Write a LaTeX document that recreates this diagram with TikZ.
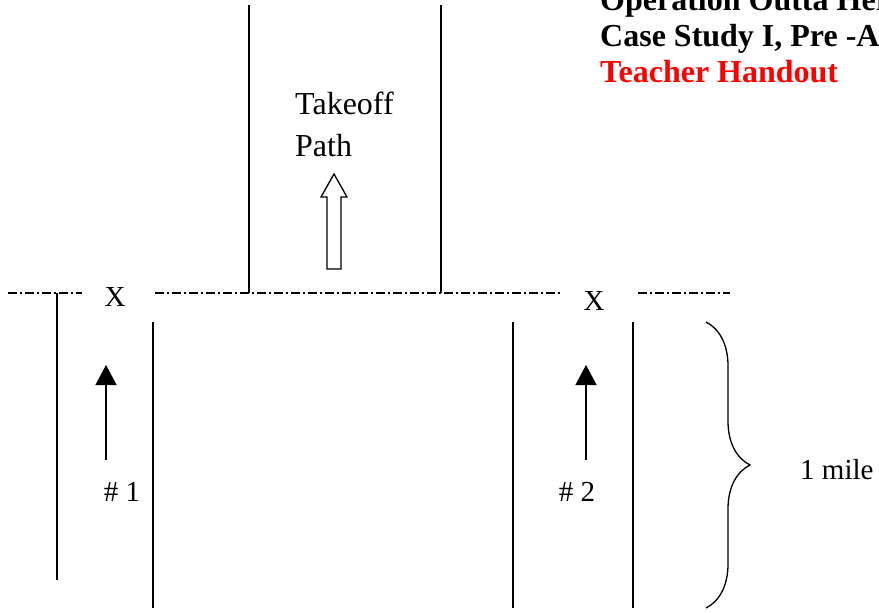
\documentclass[tikz,border=0pt]{standalone}
\usepackage{fontspec}
\setmainfont{Liberation Serif}
\usetikzlibrary{positioning, arrows.meta, decorations.pathreplacing}

\tikzset{
  edge/.style={line width=1.3pt},
  centre/.style={line width=1.1pt, dash pattern=on 9pt off 3pt on 2pt off 3pt},
  lbl/.style={font=\fontsize{29}{36}\selectfont, inner sep=0pt},
  head/.style={lbl, anchor=base west, font=\fontsize{32}{36}\selectfont\bfseries},
}

\begin{document}
\begin{tikzpicture}[x=1pt, y=-1pt]
\useasboundingbox (0,0) rectangle (879,613);
\clip (0,0) rectangle (879,613);

% heading
\node[head] (hd1) at (600,10) {Operation Outta Here};
\node[head] (hd2) at (600,46) {Case Study I, Pre -Algebra};
\node[head, text={rgb,255:red,255;green,0;blue,0}] (hd3) at (600,82) {Teacher Handout};

% takeoff strip
\draw[edge] (249,5) -- (249,293);
\draw[edge] (441,5) -- (441,293);
\node[lbl, anchor=base west, font=\fontsize{32}{36}\selectfont] (tk1) at (295,114) {Takeoff};
\node[lbl, anchor=base west, font=\fontsize{32}{36}\selectfont] (tk2) at (295,156) {Path};
\draw[edge, fill=white] (327,269) -- (327,197) -- (321,197) -- (334,174)
  -- (347,197) -- (341,197) -- (341,269) -- cycle;

% centre line
\draw[centre] (8,293) -- (82,293);
\draw[centre] (155,293) -- (560,293);
\draw[centre] (638,293) -- (730,293);
\node[lbl] (x1) at (115,297) {X};
\node[lbl] (x2) at (594,301) {X};

% runway 1
\draw[edge] (57,293) -- (57,580);
\draw[edge] (153,322) -- (153,608);
\coordinate (a1) at (106,460);
\coordinate (b1) at (106,365);
\draw[edge, -{Triangle[length=20pt, width=21pt]}] (a1) -- (b1);
\node[lbl] (n1) at (122,492) {\# 1};

% runway 2
\draw[edge] (513,322) -- (513,608);
\draw[edge] (633,322) -- (633,608);
\coordinate (a2) at (586,460);
\coordinate (b2) at (586,365);
\draw[edge, -{Triangle[length=20pt, width=21pt]}] (a2) -- (b2);
\node[lbl] (n2) at (577,492) {\# 2};

% length
\coordinate (br1) at (706,322);
\coordinate (br2) at (706,608);
\draw[edge, decorate, decoration={brace, amplitude=44pt}] (br1) -- (br2);
\node[lbl, anchor=base west] (ml) at (800,479) {1 mile};
\end{tikzpicture}
\end{document}
